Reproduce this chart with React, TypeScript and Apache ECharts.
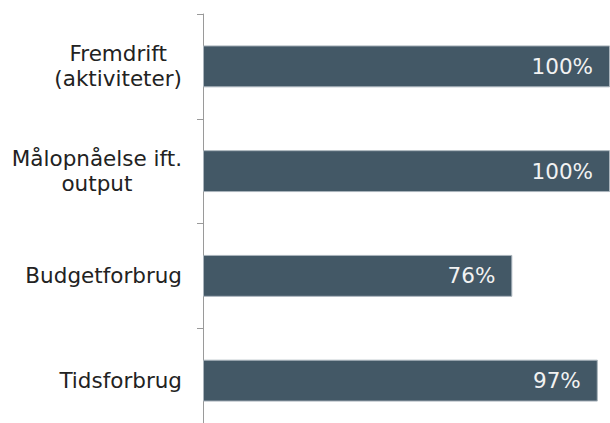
import React, { useEffect, useRef } from "react";
import * as echarts from "echarts";

const categories = ["Fremdrift\n(aktiviteter)", "Målopnåelse ift.\noutput", "Budgetforbrug", "Tidsforbrug"];
const values = [100, 100, 76, 97];

export default function App() {
  const ref = useRef<HTMLDivElement>(null);
  useEffect(() => {
    if (!ref.current) return;
    const chart = echarts.init(ref.current, null, { renderer: "svg" });
    chart.setOption({
      animation: false,
      textStyle: { fontFamily: "DejaVu Sans" },
      grid: { left: 203, right: 0, top: 14, bottom: 7, containLabel: false },
      xAxis: {
        type: "value",
        min: 0,
        max: 100,
        show: false,
        splitLine: { show: false },
      },
      yAxis: {
        type: "category",
        inverse: true,
        data: categories,
        axisLine: { show: true, lineStyle: { color: "#9a9a9a", width: 1 } },
        axisTick: { show: true, length: 6, lineStyle: { color: "#9a9a9a" } },
        axisLabel: {
          margin: 21,
          color: "#222222",
          fontSize: 21.5,
          fontFamily: "DejaVu Sans",
          align: "right",
          lineHeight: 25,
          formatter: (v: string) => v.split("\n").map((l) => `{c|${l}}`).join("\n"),
          rich: {
            c: { align: "center", fontSize: 21.5, fontFamily: "DejaVu Sans", color: "#222222", lineHeight: 25 },
          },
        },
      },
      series: [
        {
          type: "bar",
          data: values,
          barCategoryGap: "60%",
          itemStyle: { color: "#435866", borderColor: "#aab4bc", borderWidth: 1 },
          label: {
            show: true,
            position: "insideRight",
            distance: 17,
            formatter: "{c}%",
            color: "#f2f2f2",
            fontSize: 21.5,
            fontFamily: "DejaVu Sans",
          },
        },
      ],
    });
    return () => chart.dispose();
  }, []);
  return (
    <div style={{ position: "fixed", left: 0, top: 0, width: 610, height: 423, overflow: "hidden", background: "#fff" }}>
      <div ref={ref} style={{ width: 610, height: 440 }} />
    </div>
  );
}
